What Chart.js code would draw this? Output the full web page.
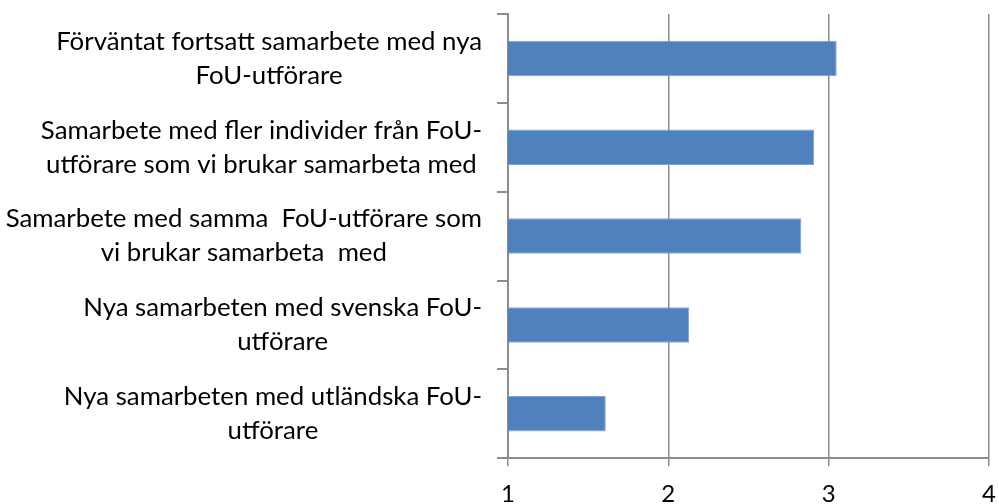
<!DOCTYPE html>
<html>
<head>
<meta charset="utf-8">
<script src="https://cdn.jsdelivr.net/npm/chart.js@4/dist/chart.umd.min.js"></script>
<style>
  html, body { margin: 0; padding: 0; background: #fff; overflow: hidden; }
  #wrap { position: relative; width: 999px; height: 525px; }
</style>
</head>
<body>
<div id="wrap"><canvas id="c"></canvas></div>
<script>
const categories = [
  ["Förväntat fortsatt samarbete med nya", "FoU-utförare"],
  ["Samarbete med fler individer från FoU-", "utförare som vi brukar samarbeta med"],
  ["Samarbete med samma  FoU-utförare som", "vi brukar samarbeta  med"],
  ["Nya samarbeten med svenska FoU-", "utförare"],
  ["Nya samarbeten med utländska FoU-", "utförare"]
];
const values = [3.05, 2.91, 2.83, 2.13, 1.61];
const xTicks = [1, 2, 3, 4];

const FONT = "Lato";
const LABEL_SIZE = 25.8;
const LINE_H = 34;
const GRAY = "#8c8c8c";

const labelPlugin = {
  id: "centeredYLabels",
  afterDraw(chart) {
    const scale = chart.scales.y;
    const ctx = chart.ctx;
    ctx.save();
    ctx.font = LABEL_SIZE + "px '" + FONT + "'";
    ctx.fillStyle = "#000";
    ctx.textAlign = "center";
    ctx.textBaseline = "middle";
    const rightEdge = scale.right - 11 - 15;
    chart.data.labels.forEach((lines, i) => {
      const y = scale.getPixelForTick(i);
      const maxW = Math.max(...lines.map(l => ctx.measureText(l).width));
      const cx = rightEdge - maxW / 2;
      lines.forEach((l, j) => {
        ctx.fillText(l, cx, y + (j - (lines.length - 1) / 2) * LINE_H);
      });
    });
    ctx.restore();
  }
};

new Chart(document.getElementById("c"), {
  type: "bar",
  data: {
    labels: categories,
    datasets: [{
      data: values,
      backgroundColor: "#4F81BD",
      borderColor: "#7FA3D0",
      borderWidth: 1,
      borderSkipped: "start",
      barPercentage: 0.4,
      categoryPercentage: 1.0
    }]
  },
  options: {
    indexAxis: "y",
    responsive: true,
    maintainAspectRatio: false,
    animation: false,
    layout: { padding: { top: 14, right: 10, bottom: 2, left: 0 } },
    plugins: { legend: { display: false }, tooltip: { enabled: false } },
    scales: {
      x: {
        type: "linear",
        min: xTicks[0],
        max: xTicks[xTicks.length - 1],
        afterBuildTicks(scale) { scale.ticks = xTicks.map(v => ({ value: v })); },
        afterFit(scale) { scale.paddingLeft = 0; scale.paddingRight = 0; },
        grid: { color: GRAY, lineWidth: 1.5, tickLength: 8, drawTicks: true },
        border: { color: GRAY, width: 2 },
        ticks: { font: { family: "Lato", size: 24 }, color: "#000", padding: 14 }
      },
      y: {
        type: "category",
        offset: true,
        afterFit(scale) { scale.width = 508; scale.paddingTop = 0; scale.paddingBottom = 0; },
        grid: { offset: true, drawOnChartArea: false, drawTicks: true, tickLength: 11, color: GRAY, lineWidth: 2 },
        border: { color: GRAY, width: 2 },
        ticks: { color: "rgba(0,0,0,0)", font: { family: FONT, size: 12 } }
      }
    }
  },
  plugins: [labelPlugin]
});
</script>
</body>
</html>
